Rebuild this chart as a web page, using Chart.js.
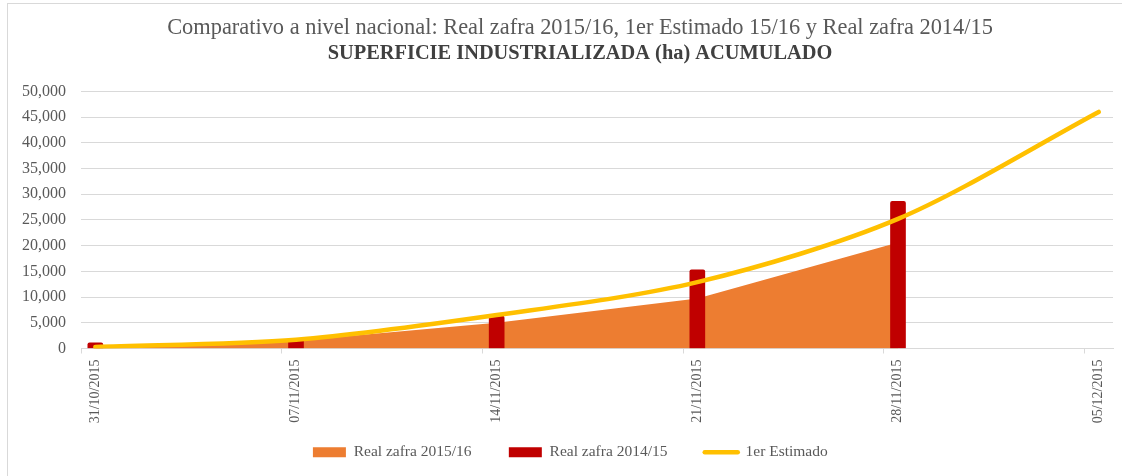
<!DOCTYPE html>
<html><head><meta charset="utf-8">
<script src="https://cdn.jsdelivr.net/npm/chart.js@4.4.1/dist/chart.umd.min.js"></script>
<style>
html,body{margin:0;padding:0;background:#fff;overflow:hidden;}
#wrap{position:relative;width:1122px;height:476px;overflow:hidden;}
#frame{position:absolute;left:7px;top:3px;right:-2px;bottom:-2px;border-left:1px solid #d9d9d9;border-top:1px solid #d9d9d9;pointer-events:none;}
canvas{display:block;}
</style></head><body>
<div id="wrap"><canvas id="c" width="1160" height="476"></canvas><div id="frame"></div></div>
<script>
const titleText = 'Comparativo a nivel nacional: Real zafra 2015/16, 1er Estimado 15/16 y Real zafra 2014/15';
const subtitleText = 'SUPERFICIE INDUSTRIALIZADA (ha) ACUMULADO';
const weekLabels = ['31/10/2015','07/11/2015','14/11/2015','21/11/2015','28/11/2015','05/12/2015'];
const weekDay = [0, 7, 14, 21, 28, 35];
const real1516 = [100, 1500, 5000, 9700, 20600];
const real1415 = [1100, 1900, 6300, 15300, 28600];
const estimado = [300, 1700, 6500, 12900, 25200, 46000];
const seriesNames = ['Real zafra 2015/16', 'Real zafra 2014/15', '1er Estimado'];
const seriesColors = ['#ED7D31', '#C00000', '#FFC000'];

const toPts = arr => arr.map((v, i) => ({x: weekDay[i], y: v}));
const SERIF = "'Liberation Serif', 'Times New Roman', serif";

new Chart(document.getElementById('c'), {
  type: 'bar',
  data: {
    datasets: [
      {type: 'line', label: seriesNames[0], data: toPts(real1516), fill: 'origin',
       backgroundColor: seriesColors[0], borderColor: seriesColors[0], borderWidth: 0,
       pointRadius: 0, tension: 0, order: 3},
      {type: 'bar', label: seriesNames[1], data: toPts(real1415), backgroundColor: seriesColors[1],
       barThickness: 15, borderRadius: {topLeft: 2, topRight: 2, bottomLeft: 0, bottomRight: 0},
       borderSkipped: 'start', order: 2},
      {type: 'line', label: seriesNames[2], data: toPts(estimado), fill: false,
       borderColor: seriesColors[2], backgroundColor: seriesColors[2], borderWidth: 4.5,
       borderCapStyle: 'round', pointRadius: 0, tension: 0.3, order: 1}
    ]
  },
  options: {
    responsive: false,
    animation: false,
    devicePixelRatio: 1,
    layout: {padding: {left: 0, right: 0, top: 0, bottom: 6}},
    scales: {
      x: {
        type: 'linear', min: -0.5, max: 35.5, offset: false,
        afterBuildTicks: s => { s.ticks = weekDay.map(d => ({value: d - 0.5})); },
        afterFit: s => { s.height = 82; },
        ticks: {
          autoSkip: false, minRotation: 90, maxRotation: 90, labelOffset: 14, padding: 6,
          font: {family: SERIF, size: 14}, color: '#595959',
          callback: (v, i) => weekLabels[i]
        },
        grid: {offset: false, drawOnChartArea: false, drawTicks: true, tickLength: 5, color: '#d9d9d9'},
        border: {display: true, color: '#d9d9d9', width: 1}
      },
      y: {
        min: 0, max: 50000,
        afterFit: s => { s.width = 81; },
        ticks: {stepSize: 5000, padding: 15, font: {family: SERIF, size: 16}, color: '#595959',
          callback: v => v.toLocaleString('en-US')},
        grid: {color: '#d9d9d9', drawTicks: false},
        border: {display: false}
      },
      yPad: {
        position: 'right', display: true,
        afterFit: s => { s.width = 47; },
        ticks: {display: false},
        grid: {display: false, drawTicks: false},
        border: {display: false}
      }
    },
    plugins: {
      title: {display: true, text: titleText, color: '#595959',
        font: {family: SERIF, size: 22.4, weight: 'normal'}, padding: {top: 15, bottom: 0}},
      subtitle: {display: true, text: subtitleText, color: '#404040',
        font: {family: SERIF, size: 20.4, weight: 'bold'}, padding: {top: 0, bottom: 25}},
      legend: {
        position: 'bottom',
        labels: {
          usePointStyle: true, pointStyleWidth: 33, boxHeight: 10, padding: 14,
          font: {family: SERIF, size: 15.5}, color: '#595959',
          generateLabels: chart => chart.data.datasets.map((ds, i) => ({
            text: ds.label + '\u00a0'.repeat(i < 2 ? 6 : 5),
            fillStyle: i === 2 ? 'rgba(0,0,0,0)' : seriesColors[i],
            strokeStyle: seriesColors[i],
            lineWidth: i === 2 ? 4.5 : 0,
            lineCap: 'round',
            pointStyle: i === 2 ? 'line' : 'rect',
            fontColor: '#595959',
            hidden: false,
            datasetIndex: i
          }))
        }
      },
      tooltip: {enabled: false}
    }
  }
});
</script>
</body></html>
